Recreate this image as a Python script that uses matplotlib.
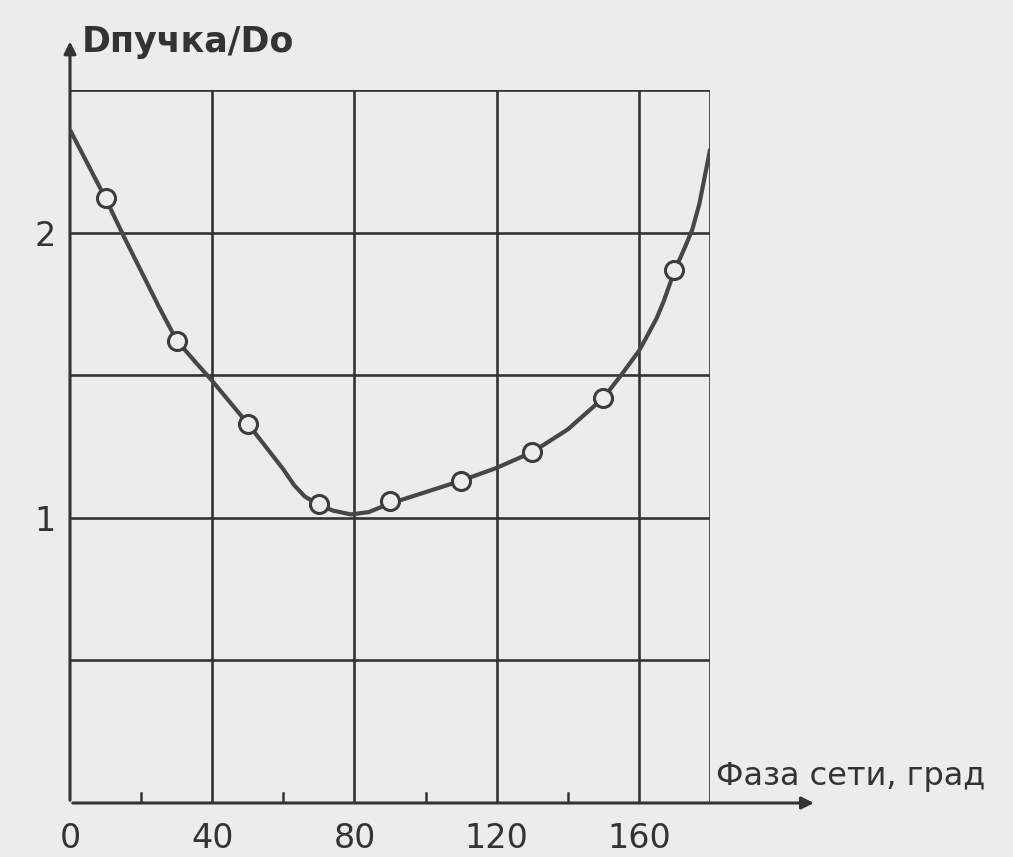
import matplotlib.pyplot as plt

# --- data ---
# measured points (open circles)
phase_pts = [10, 30, 50, 70, 90, 110, 130, 150, 170]
ratio_pts = [2.12, 1.62, 1.33, 1.05, 1.06, 1.13, 1.23, 1.42, 1.87]

# hand-drawn smooth curve, traced at several positions
phase_curve = [0, 5, 10, 15, 20, 25, 30, 35, 40, 45, 50, 55, 60, 63, 66, 68, 70,
               74, 79, 84, 90, 100, 110, 120, 130, 140, 150, 155, 160, 162, 165,
               167, 170, 173, 175, 177, 180]
ratio_curve = [2.36, 2.24, 2.12, 1.99, 1.865, 1.74, 1.622, 1.55, 1.48, 1.405, 1.33,
               1.25, 1.17, 1.115, 1.075, 1.06, 1.045, 1.025, 1.012, 1.02, 1.05,
               1.09, 1.13, 1.175, 1.23, 1.31, 1.42, 1.5, 1.585, 1.63, 1.7, 1.76,
               1.865, 1.95, 2.01, 2.1, 2.29]

xticks = [0, 40, 80, 120, 160]
xminor = [20, 60, 100, 140]
ygrid = [0.5, 1.0, 1.5, 2.0, 2.5]
yticks = [1, 2]

paper = '#ececea'
ink = '#333333'

fig = plt.figure(figsize=(10.13, 8.57), dpi=100, facecolor=paper)
ax = fig.add_axes([70 / 1013, 54 / 857, 640 / 1013, 713 / 857])
ax.set_facecolor(paper)
ax.set_xlim(0, 180)
ax.set_ylim(0, 2.5)

# grid drawn like ruled lines
for gx in xticks[1:] + [180]:
    ax.axvline(gx, color=ink, lw=1.9, zorder=1)
for gy in ygrid:
    ax.axhline(gy, color=ink, lw=1.9, zorder=1)

for s in ax.spines.values():
    s.set_visible(False)

# axes with arrows, extending beyond the grid
ax.annotate('', xy=(210, 0), xytext=(0, 0), xycoords='data', annotation_clip=False,
            arrowprops=dict(arrowstyle='-|>', color=ink, lw=2.2, mutation_scale=18))
ax.annotate('', xy=(0, 2.68), xytext=(0, 0), xycoords='data', annotation_clip=False,
            arrowprops=dict(arrowstyle='-|>', color=ink, lw=2.2, mutation_scale=18))

# minor ticks on x axis (drawn upward)
for mx in xminor:
    ax.plot([mx, mx], [0, 0.035], color=ink, lw=1.8, zorder=2)

ax.set_xticks(xticks)
ax.set_yticks(yticks)
ax.tick_params(length=0, labelsize=24, colors=ink, pad=14)
ax.tick_params(axis='y', pad=10)

ax.plot(phase_curve, ratio_curve, color='#474747', lw=3.0, zorder=3,
        solid_capstyle='round', solid_joinstyle='round')
ax.plot(phase_pts, ratio_pts, 'o', ms=13, mfc=paper, mec='#3c3c3c', mew=2.2, zorder=4)

fig.text(82 / 1013, 1 - 42 / 857, 'Dпучка/Do', fontsize=25, fontweight='bold',
         color=ink, va='center', ha='left')
fig.text(716 / 1013, 1 - 777 / 857, 'Фаза сети, град', fontsize=23,
         color=ink, va='center', ha='left')

fig.savefig('out.png', dpi=100, facecolor=paper)
